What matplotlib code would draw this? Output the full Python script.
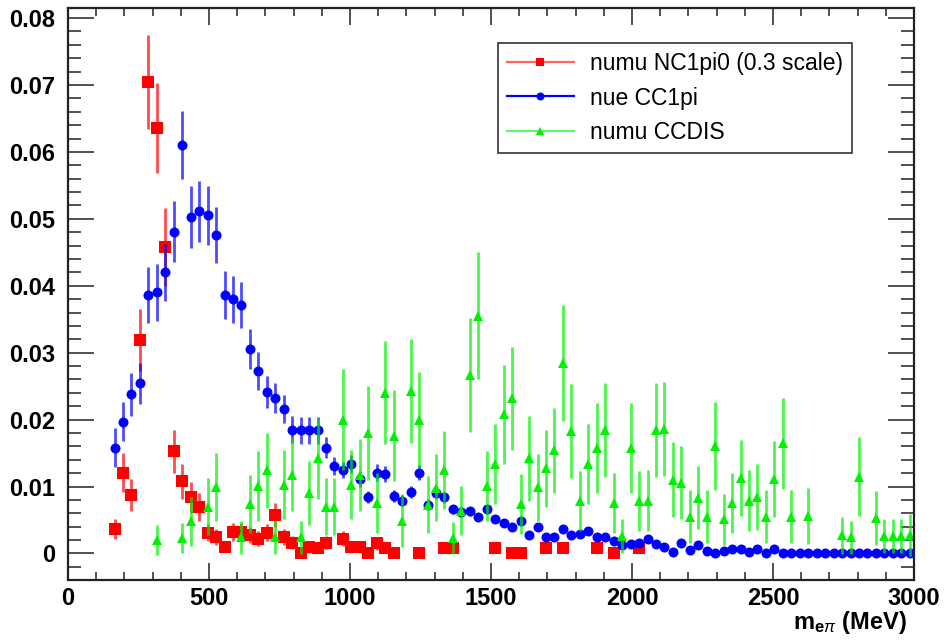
import numpy as np
import matplotlib
matplotlib.use("Agg")
import matplotlib.pyplot as plt
from matplotlib.lines import Line2D
from matplotlib.ticker import MultipleLocator, FuncFormatter

nan = np.nan

# 100 bins of 30 MeV between 0 and 3000 MeV
bin_edges = np.linspace(0, 3000, 101)
bin_centers = 0.5 * (bin_edges[:-1] + bin_edges[1:])

# numu NC1pi0 (scaled by 0.3)
red_vals = [nan, nan, nan, nan, nan, 0.0036, 0.0121, 0.0088, 0.0319, 0.0704,
            0.0636, 0.0458, 0.0153, 0.0108, 0.0084, 0.0070, 0.0031, 0.0025, 0.0010, 0.0032,
            0.0032, 0.0027, 0.0022, 0.0031, 0.0058, 0.0024, 0.0016, 0.0000, 0.0009, 0.0008,
            0.0016, nan, 0.0022, 0.0009, 0.0009, 0.0000, 0.0015, 0.0008, 0.0000, nan,
            nan, 0.0000, nan, nan, 0.0008, 0.0008, nan, nan, nan, nan,
            0.0008, nan, 0.0000, 0.0000, nan, nan, 0.0008, nan, 0.0008, nan,
            nan, nan, 0.0008, nan, 0.0000, nan, nan, 0.0008, nan, nan,
            nan, nan, nan, nan, nan, nan, nan, nan, nan, nan,
            nan, nan, nan, nan, nan, nan, nan, nan, nan, nan,
            nan, nan, nan, nan, nan, nan, nan, nan, nan, nan]
red_errs = [0, 0, 0, 0, 0, 0.0015, 0.0029, 0.0024, 0.0047, 0.0070,
            0.0067, 0.0058, 0.0032, 0.0026, 0.0023, 0.0021, 0.0013, 0.0012, 0.0008, 0.0013,
            0.0013, 0.0012, 0.0011, 0.0013, 0.0018, 0.0012, 0.0010, 0, 0.0008, 0.0008,
            0.0010, 0, 0.0011, 0.0008, 0.0008, 0, 0.0010, 0.0008, 0, 0,
            0, 0, 0, 0, 0.0008, 0.0008, 0, 0, 0, 0,
            0.0008, 0, 0, 0, 0, 0, 0.0008, 0, 0.0008, 0,
            0, 0, 0.0008, 0, 0, 0, 0, 0.0008, 0, 0,
            0, 0, 0, 0, 0, 0, 0, 0, 0, 0,
            0, 0, 0, 0, 0, 0, 0, 0, 0, 0,
            0, 0, 0, 0, 0, 0, 0, 0, 0, 0]

# nue CC1pi
blue_vals = [nan, nan, nan, nan, nan, 0.0158, 0.0197, 0.0238, 0.0254, 0.0386,
             0.0390, 0.0420, 0.0481, 0.0610, 0.0503, 0.0511, 0.0505, 0.0476, 0.0386, 0.0380,
             0.0371, 0.0305, 0.0273, 0.0241, 0.0232, 0.0216, 0.0185, 0.0184, 0.0184, 0.0184,
             0.0158, 0.0131, 0.0125, 0.0134, 0.0111, 0.0084, 0.0121, 0.0119, 0.0086, 0.0079,
             0.0092, 0.0121, 0.0073, 0.0090, 0.0084, 0.0066, 0.0062, 0.0063, 0.0055, 0.0066,
             0.0052, 0.0046, 0.0040, 0.0048, 0.0027, 0.0040, 0.0025, 0.0025, 0.0037, 0.0027,
             0.0029, 0.0034, 0.0024, 0.0024, 0.0018, 0.0013, 0.0014, 0.0016, 0.0021, 0.0014,
             0.0009, 0.0002, 0.0015, 0.0005, 0.0012, 0.0004, 0.0001, 0.0003, 0.0006, 0.0007,
             0.0002, 0.0006, 0.0000, 0.0007, 0.0000, 0.0000, 0.0001, 0.0001, 0.0001, 0.0001,
             0.0001, 0.0001, 0.0000, 0.0000, 0.0000, 0.0001, 0.0000, 0.0000, 0.0000, 0.0000]
blue_errs = [0, 0, 0, 0, 0, 0.0029, 0.0029, 0.0032, 0.0031, 0.0042,
             0.0042, 0.0043, 0.0045, 0.0051, 0.0046, 0.0046, 0.0044, 0.0042, 0.0036, 0.0035,
             0.0034, 0.0030, 0.0028, 0.0024, 0.0022, 0.0021, 0.0020, 0.0020, 0.0020, 0.0020,
             0.0016, 0.0013, 0.0012, 0.0013, 0.0011, 0.0009, 0.0012, 0.0012, 0.0009, 0.0008,
             0.0009, 0.0011, 0.0008, 0.0008, 0.0008, 0.0007, 0.0007, 0.0007, 0.0006, 0.0007,
             0.0006, 0.0005, 0.0005, 0.0005, 0.0004, 0.0005, 0.0004, 0.0004, 0.0005, 0.0004,
             0.0004, 0.0004, 0.0004, 0.0004, 0.0003, 0.0003, 0.0003, 0.0003, 0.0003, 0.0003,
             0.0002, 0.0001, 0.0003, 0.0002, 0.0002, 0.0001, 0.0001, 0.0001, 0.0002, 0.0002,
             0.0001, 0.0002, 0.0001, 0.0002, 0.0001, 0.0001, 0.0001, 0.0001, 0.0001, 0.0001,
             0.0001, 0.0001, 0.0001, 0.0001, 0.0001, 0.0001, 0.0001, 0.0001, 0.0001, 0.0001]

# numu CCDIS
green_vals = [nan, nan, nan, nan, nan, nan, nan, nan, nan, nan,
              0.0020, nan, nan, 0.0023, 0.0048, nan, 0.0070, 0.0099, nan, nan,
              0.0024, 0.0074, 0.0101, 0.0124, 0.0024, 0.0103, 0.0118, 0.0024, 0.0090, 0.0142,
              0.0070, 0.0070, 0.0200, 0.0103, 0.0117, 0.0180, 0.0075, 0.0240, 0.0176, 0.0049,
              0.0243, 0.0199, 0.0073, 0.0098, 0.0125, 0.0023, 0.0064, 0.0267, 0.0355, 0.0101,
              0.0134, 0.0208, 0.0232, 0.0074, 0.0142, 0.0099, 0.0127, 0.0154, 0.0285, 0.0183,
              0.0078, 0.0134, 0.0158, 0.0184, 0.0076, 0.0026, 0.0158, 0.0078, 0.0079, 0.0184,
              0.0186, 0.0110, 0.0106, 0.0055, 0.0083, 0.0055, 0.0161, 0.0051, 0.0076, 0.0113,
              0.0079, 0.0084, 0.0055, 0.0111, 0.0165, 0.0055, nan, 0.0056, nan, nan,
              nan, 0.0027, 0.0024, 0.0115, nan, 0.0053, 0.0026, 0.0026, 0.0026, 0.0028]
green_errs = [0, 0, 0, 0, 0, 0, 0, 0, 0, 0,
              0.0022, 0, 0, 0.0023, 0.0037, 0, 0.0043, 0.0051, 0, 0,
              0.0025, 0.0044, 0.0052, 0.0056, 0.0025, 0.0052, 0.0054, 0.0025, 0.0048, 0.0061,
              0.0043, 0.0043, 0.0075, 0.0052, 0.0054, 0.0070, 0.0045, 0.0077, 0.0068, 0.0040,
              0.0078, 0.0072, 0.0043, 0.0050, 0.0058, 0.0024, 0.0037, 0.0085, 0.0095, 0.0052,
              0.0060, 0.0074, 0.0077, 0.0045, 0.0064, 0.0050, 0.0058, 0.0064, 0.0087, 0.0070,
              0.0045, 0.0060, 0.0067, 0.0070, 0.0045, 0.0026, 0.0067, 0.0045, 0.0046, 0.0070,
              0.0070, 0.0056, 0.0054, 0.0040, 0.0047, 0.0040, 0.0066, 0.0038, 0.0045, 0.0057,
              0.0046, 0.0049, 0.0040, 0.0057, 0.0068, 0.0040, 0, 0.0042, 0, 0,
              0, 0.0028, 0.0025, 0.0059, 0, 0.0040, 0.0026, 0.0026, 0.0026, 0.0031]

labels = ["numu NC1pi0 (0.3 scale)", "nue CC1pi", "numu CCDIS"]

plt.rcParams['font.family'] = ['Liberation Sans', 'DejaVu Sans']
plt.rcParams['mathtext.fontset'] = 'custom'
plt.rcParams['mathtext.rm'] = 'Liberation Sans'
plt.rcParams['mathtext.bf'] = 'Liberation Sans:bold'
plt.rcParams['mathtext.it'] = 'Liberation Sans:italic'


def main():
    fig = plt.figure(figsize=(9.46, 6.4), dpi=100)
    ax = fig.add_axes([68 / 946, 1 - 580 / 640, 846 / 946, 572 / 640])

    series = [
        (red_vals, red_errs, (1, 0, 0), 's', 8.0, 0.6),
        (blue_vals, blue_errs, (0, 0, 1), 'o', 7.2, 1.0),
        (green_vals, green_errs, (0, 0.95, 0), '^', 7.5, 0.6),
    ]
    handles = []
    for (vals, errs, col, mk, ms, lalpha), lab in zip(series, labels):
        v = np.array(vals, dtype=float)
        e = np.array(errs, dtype=float)
        keep = ~np.isnan(v)
        bar_col = tuple(list(col) + [0.7])
        ax.errorbar(bin_centers[keep], v[keep], yerr=e[keep], fmt='none',
                    ecolor=bar_col, elinewidth=2.0, capsize=0)
        ax.plot(bin_centers[keep], v[keep], linestyle='none', marker=mk,
                markersize=ms, color=col, markeredgewidth=0)
        handles.append(Line2D([], [], color=tuple(list(col) + [lalpha]), lw=1.6, marker=mk,
                              markersize=ms * 0.8, markerfacecolor=col,
                              markeredgewidth=0, label=lab))

    ax.set_xlim(0, 3000)
    ax.set_ylim(-0.00396, 0.0815)

    ax.xaxis.set_major_locator(MultipleLocator(500))
    ax.xaxis.set_minor_locator(MultipleLocator(100))
    ax.yaxis.set_major_locator(MultipleLocator(0.01))
    ax.yaxis.set_minor_locator(MultipleLocator(0.002))
    ax.yaxis.set_major_formatter(FuncFormatter(lambda y, p: "0" if abs(y) < 1e-9 else "%g" % y))

    ax.tick_params(axis='both', which='both', direction='in', top=True, right=True,
                   color='#333333', width=1.2)
    ax.tick_params(axis='x', which='major', length=12.5, pad=5)
    ax.tick_params(axis='x', which='minor', length=6)
    ax.tick_params(axis='y', which='major', length=18.5, pad=9)
    ax.tick_params(axis='y', which='minor', length=9.3)
    for lab in ax.get_xticklabels() + ax.get_yticklabels():
        lab.set_fontsize(17)
        lab.set_fontweight('bold')
    for sp in ax.spines.values():
        sp.set_linewidth(1.6)
        sp.set_color('#222222')

    ax.set_xlabel(r'$\mathbf{m}_{\mathbf{e}\pi}$ (MeV)', loc='right',
                  fontsize=17, fontweight='bold')
    ax.xaxis.set_label_coords((907 - 68) / 846, (580 - 609) / 572)

    leg = ax.legend(handles=handles, loc='center', bbox_to_anchor=(675 / 946, 1 - 98 / 640),
                    bbox_transform=fig.transFigure, fontsize=16.5, frameon=True,
                    fancybox=False, edgecolor='black', handlelength=2.9,
                    handletextpad=0.7, labelspacing=0.5, borderpad=0.4,
                    borderaxespad=0)
    leg.get_frame().set_linewidth(1.2)

    fig.savefig("out.png", dpi=100)
    return None


if __name__ == "__main__":
    main()
